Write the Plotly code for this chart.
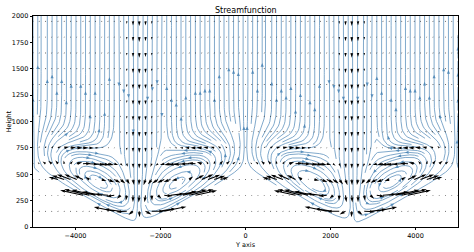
import math
import numpy as np
import plotly.graph_objects as go

# ------------------------------------------------------------------ data
x_limits = [-5000, 5000]
height_limits = [0, 2000]
ridge_x = [-5000, 0, 5000]          # ridge tops (no-flow triangles beneath)
ridge_height = 560.0
ridge_halfwidth = 2500.0
valley_x = [-7500, -2500, 2500, 7500]   # down-draught columns (with periodic images)
period = 5000.0
jet_speed = 0.85
jet_width = 420.0
upper_depth = 220.0
cell_x = [-6430, -3500, -1570, 1570, 3500, 6430]   # slope-circulation centres
cell_sign = [1, -1, 1, -1, 1, -1]
cell_strength = 440.0
cell_width = 900.0
cell_depth = 185.0

quiver_x = [-5000 + i * 10000 / 68 for i in range(69)]
quiver_y = [150, 300, 450, 600, 750, 900, 1050, 1200, 1350, 1500, 1650, 1800, 1950]

x_ticks = [-4000, -2000, 0, 2000, 4000]
x_tick_text = ["\u22124000", "\u22122000", "0", "2000", "4000"]
y_ticks = [0, 250, 500, 750, 1000, 1250, 1500, 1750, 2000]
y_tick_text = [str(v) for v in y_ticks]

title_text = "Streamfunction"
x_title = "Y axis"
y_title = "Height"

# ------------------------------------------------------------------ layout geometry
W, H = 474, 252
ML, MR, MT, MB = 30, 16, 16, 23
PW, PH = W - ML - MR, H - MT - MB


def d2px(x, y):
    return (ML + (x - x_limits[0]) / (x_limits[1] - x_limits[0]) * PW,
            MT + PH - (y - height_limits[0]) / (height_limits[1] - height_limits[0]) * PH)


def px2d(px, py):
    return (x_limits[0] + (px - ML) / PW * (x_limits[1] - x_limits[0]),
            height_limits[0] + (MT + PH - py) / PH * (height_limits[1] - height_limits[0]))


# ------------------------------------------------------------------ flow field
erf = np.vectorize(math.erf)


def terrain(x):
    x = np.asarray(x, float)
    d = np.min(np.abs(x[..., None] - np.asarray(ridge_x, float)), axis=-1)
    return ridge_height * np.clip(1 - d / ridge_halfwidth, 0, None)


def P(x):
    a = jet_speed * jet_width * math.sqrt(math.pi) / period
    out = -a * x
    for xv in valley_x:
        out = out + jet_speed * jet_width * math.sqrt(math.pi) / 2 * erf((x - xv) / jet_width)
    return out


def C(x):
    out = np.zeros_like(x, dtype=float)
    for cx, sg in zip(cell_x, cell_sign):
        out = out + sg * cell_strength * np.exp(-((x - cx) / cell_width) ** 2)
    return out


def psi(x, y):
    z = np.clip(y - terrain(x), 0, None)
    T = 1 - np.exp(-(z / upper_depth) ** 2)
    s = z / cell_depth
    Q = s * np.exp((1 - s ** 2) / 2)
    return P(x) * T + C(x) * Q


def velocity(x, y, d=1.0):
    x = np.asarray(x, float)
    y = np.asarray(y, float)
    u = (psi(x, y + d) - psi(x, y - d)) / (2 * d)
    v = -(psi(x + d, y) - psi(x - d, y)) / (2 * d)
    inside = y <= terrain(x)
    u = np.where(inside, 0.0, u)
    v = np.where(inside, 0.0, v)
    return u, v


xs = np.linspace(x_limits[0], x_limits[1], 201)
ys = np.linspace(height_limits[0], height_limits[1], 101)
XX, YY = np.meshgrid(xs, ys)
U, V = velocity(XX, YY)


# ------------------------------------------------------------------ streamline tracing (matplotlib-like)
class _Term(Exception):
    pass


class _OOB(Exception):
    pass


class _Invalid(Exception):
    pass


def trace_streamlines(xs, ys, U, V, density=3.0, minlength=0.1, maxlength=4.0):
    nx, ny = len(xs), len(ys)
    dxg = xs[1] - xs[0]
    dyg = ys[1] - ys[0]
    mnx = int(30 * density)
    mny = int(30 * density)
    mask = [[0] * mnx for _ in range(mny)]
    x_g2m = (mnx - 1) / (nx - 1)
    y_g2m = (mny - 1) / (ny - 1)
    ug = U / dxg
    vg = V / dyg
    spd = np.sqrt((ug / (nx - 1)) ** 2 + (vg / (ny - 1)) ** 2)
    ugl, vgl, spl = ug.tolist(), vg.tolist(), spd.tolist()

    def interp(a, xi, yi):
        x = int(xi)
        y = int(yi)
        xn = x if x == nx - 1 else x + 1
        yn = y if y == ny - 1 else y + 1
        xt = xi - x
        yt = yi - y
        r0 = a[y]
        r1 = a[yn]
        a0 = r0[x] * (1 - xt) + r0[xn] * xt
        a1 = r1[x] * (1 - xt) + r1[xn] * xt
        return a0 * (1 - yt) + a1 * yt

    def within(xi, yi):
        return 0 <= xi <= nx - 1 and 0 <= yi <= ny - 1

    def g2m(xi, yi):
        return int(round(xi * x_g2m)), int(round(yi * y_g2m))

    state = {"cur": None, "traj": []}

    def update(xi, yi):
        if not within(xi, yi):
            raise _Invalid
        xm, ym = g2m(xi, yi)
        if state["cur"] != (xm, ym):
            if mask[ym][xm] == 0:
                state["traj"].append((ym, xm))
                mask[ym][xm] = 1
                state["cur"] = (xm, ym)
            else:
                raise _Invalid

    def make_f(sign):
        def f(xi, yi):
            if not within(xi, yi):
                raise _OOB
            s = interp(spl, xi, yi)
            if s == 0:
                raise _Term
            dt = sign / s
            return interp(ugl, xi, yi) * dt, interp(vgl, xi, yi) * dt
        return f

    ff = make_f(1.0)
    fb = make_f(-1.0)
    maxds = min(1.0 / mnx, 1.0 / mny, 0.1)

    def euler(traj, f):
        xi, yi = traj[-1]
        cx, cy = f(xi, yi)
        if cx == 0:
            dsx = math.inf
        elif cx < 0:
            dsx = xi / -cx
        else:
            dsx = (nx - 1 - xi) / cx
        if cy == 0:
            dsy = math.inf
        elif cy < 0:
            dsy = yi / -cy
        else:
            dsy = (ny - 1 - yi) / cy
        ds = min(dsx, dsy)
        traj.append((xi + cx * ds, yi + cy * ds))
        return ds, traj

    def rk12(x0, y0, f):
        maxerror = 0.003
        ds = maxds
        stotal = 0.0
        xi, yi = x0, y0
        traj = []
        guard = 0
        while guard < 20000:
            guard += 1
            try:
                if within(xi, yi):
                    traj.append((xi, yi))
                else:
                    raise _OOB
                k1x, k1y = f(xi, yi)
                k2x, k2y = f(xi + ds * k1x, yi + ds * k1y)
            except _OOB:
                if traj:
                    try:
                        d, traj = euler(traj, f)
                        stotal += d
                    except (_Term, _OOB):
                        pass
                break
            except _Term:
                break
            dx1 = ds * k1x
            dy1 = ds * k1y
            dx2 = ds * 0.5 * (k1x + k2x)
            dy2 = ds * 0.5 * (k1y + k2y)
            err = math.hypot((dx2 - dx1) / (nx - 1), (dy2 - dy1) / (ny - 1))
            if err < maxerror:
                xi += dx2
                yi += dy2
                try:
                    update(xi, yi)
                except _Invalid:
                    break
                if stotal + ds > maxlength:
                    break
                stotal += ds
            if err == 0:
                ds = maxds
            else:
                ds = min(maxds, 0.85 * ds * math.sqrt(maxerror / err))
        return stotal, traj

    def integrate(x0, y0):
        state["traj"] = []
        state["cur"] = None
        try:
            update(x0, y0)
        except _Invalid:
            return None
        s1, t1 = rk12(x0, y0, fb)
        state["cur"] = g2m(x0, y0)
        s2, t2 = rk12(x0, y0, ff)
        traj = t1[::-1] + t2[1:]
        if s1 + s2 > minlength:
            return traj
        for (yy, xx) in state["traj"]:
            mask[yy][xx] = 0
        return None

    def starts(shape):
        sny, snx = shape
        xfirst, yfirst, xlast, ylast = 0, 1, snx - 1, sny - 1
        x, y = 0, 0
        direction = "right"
        for _ in range(snx * sny):
            yield x, y
            if direction == "right":
                x += 1
                if x >= xlast:
                    xlast -= 1
                    direction = "up"
            elif direction == "up":
                y += 1
                if y >= ylast:
                    ylast -= 1
                    direction = "left"
            elif direction == "left":
                x -= 1
                if x <= xfirst:
                    xfirst += 1
                    direction = "down"
            elif direction == "down":
                y -= 1
                if y <= yfirst:
                    yfirst += 1
                    direction = "right"

    out = []
    for xm, ym in starts((mny, mnx)):
        if mask[ym][xm] == 0:
            t = integrate(xm / x_g2m, ym / y_g2m)
            if t is not None and len(t) > 1:
                arr = np.array(t)
                out.append((xs[0] + arr[:, 0] * dxg, ys[0] + arr[:, 1] * dyg))
    return out


trajs = trace_streamlines(xs, ys, U, V, density=3.0)

# streamline polyline + mid arrows
sl_x, sl_y = [], []
ah_x, ah_y = [], []
for tx, ty in trajs:
    sl_x += list(tx) + [None]
    sl_y += list(ty) + [None]
    s = np.cumsum(np.hypot(np.diff(tx), np.diff(ty)))
    if len(s) == 0 or s[-1] == 0:
        continue
    n = int(np.searchsorted(s, s[-1] / 2.0))
    n = min(n, len(tx) - 2)
    tail = d2px(tx[n], ty[n])
    head = d2px(np.mean(tx[n:n + 2]), np.mean(ty[n:n + 2]))
    ddx, ddy = head[0] - tail[0], head[1] - tail[1]
    nrm = math.hypot(ddx, ddy)
    if nrm == 0:
        continue
    ex, ey = ddx / nrm, ddy / nrm
    L, hw = 3.6, 1.6
    tip = (head[0] + ex * 1.0, head[1] + ey * 1.0)
    base = (tip[0] - ex * L, tip[1] - ey * L)
    pts = [tip, (base[0] - ey * hw, base[1] + ex * hw), (base[0] + ey * hw, base[1] - ex * hw), tip]
    for p in pts:
        dx_, dy_ = px2d(*p)
        ah_x.append(dx_)
        ah_y.append(dy_)
    ah_x.append(None)
    ah_y.append(None)

# quiver arrows (matplotlib-like geometry in pixels)
QX, QY = np.meshgrid(np.array(quiver_x), np.array(quiver_y))
qu, qv = velocity(QX, QY)
mag = np.hypot(qu, qv)
k = 26.0 / mag.max()
wsh = 1.05
q_x, q_y = [], []
for px_, py_, u_, v_ in zip(QX.ravel(), QY.ravel(), qu.ravel(), qv.ravel()):
    ox, oy = d2px(px_, py_)
    Lp = k * math.hypot(u_, v_)
    if Lp < 1.0 * wsh:
        r = 0.55
        poly = [(ox + r * math.cos(a), oy + r * math.sin(a)) for a in np.linspace(0, 2 * math.pi, 7)]
    else:
        hl, hwid, hal = 5 * wsh, 3 * wsh, 4.5 * wsh
        minsh = hl
        if Lp < minsh:
            sc = Lp / minsh
            Lb = minsh
        else:
            sc = 1.0
            Lb = Lp
        loc = [(0, -wsh / 2), (Lb - hal, -wsh / 2), (Lb - hl, -hwid / 2), (Lb, 0),
               (Lb - hl, hwid / 2), (Lb - hal, wsh / 2), (0, wsh / 2), (0, -wsh / 2)]
        th = math.atan2(v_, u_)
        c, s_ = math.cos(th), math.sin(th)
        poly = []
        for a_, b_ in loc:
            a_ *= sc
            b_ *= sc
            rx = a_ * c - b_ * s_
            ry = a_ * s_ + b_ * c
            poly.append((ox + rx, oy - ry))
    for p in poly:
        dx_, dy_ = px2d(*p)
        q_x.append(dx_)
        q_y.append(dy_)
    q_x.append(None)
    q_y.append(None)

# ------------------------------------------------------------------ figure
line_col = "#4682b4"
fig = go.Figure()
fig.add_trace(go.Scatter(x=sl_x, y=sl_y, mode="lines", line=dict(color=line_col, width=0.8),
                         opacity=0.85, hoverinfo="skip"))
fig.add_trace(go.Scatter(x=ah_x, y=ah_y, mode="lines", fill="toself", fillcolor=line_col,
                         line=dict(width=0, color=line_col), opacity=0.85, hoverinfo="skip"))
fig.add_trace(go.Scatter(x=q_x, y=q_y, mode="lines", fill="toself", fillcolor="black",
                         line=dict(width=0, color="black"), hoverinfo="skip"))

font = dict(family="DejaVu Sans", size=6.5, color="black")
fig.update_layout(
    width=W, height=H, margin=dict(l=ML, r=MR, t=MT, b=MB),
    paper_bgcolor="white", plot_bgcolor="white", showlegend=False, font=font,
    xaxis=dict(range=x_limits, tickvals=x_ticks, ticktext=x_tick_text, ticks="outside",
               ticklen=2.5, tickwidth=0.6, tickcolor="black", showline=True, mirror=True,
               linecolor="black", linewidth=0.7, showgrid=False, zeroline=False, tickfont=font),
    yaxis=dict(range=height_limits, tickvals=y_ticks, ticktext=y_tick_text, ticks="outside",
               ticklen=2.5, tickwidth=0.6, tickcolor="black", showline=True, mirror=True,
               linecolor="black", linewidth=0.7, showgrid=False, zeroline=False, tickfont=font),
    annotations=[
        dict(text=title_text, xref="paper", yref="paper", x=0.5, y=1.0, yshift=-1,
             xanchor="center", yanchor="bottom", showarrow=False,
             font=dict(family="DejaVu Sans", size=8, color="black")),
        dict(text=x_title, xref="paper", yref="paper", x=0.5, y=0, yshift=-17.5,
             xanchor="center", yanchor="middle", showarrow=False, font=font),
        dict(text=y_title, xref="paper", yref="paper", x=0, xshift=-25, y=0.5,
             xanchor="center", yanchor="middle", textangle=-90, showarrow=False, font=font),
    ],
)
fig.write_html("out.html")
